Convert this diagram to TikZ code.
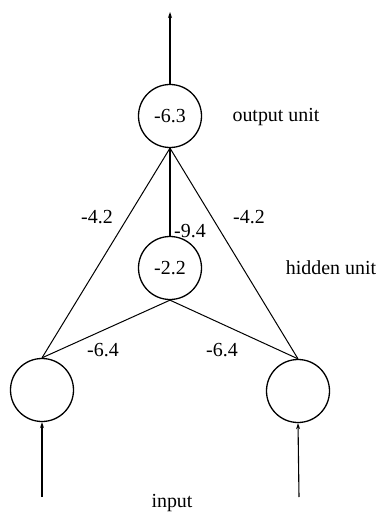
\documentclass[tikz,border=0pt]{standalone}
\usepackage{fontspec}
\setmainfont{Liberation Serif}
\usetikzlibrary{arrows.meta}
\begin{document}
\begin{tikzpicture}[x=1bp,y=-1bp,
  unit/.style={circle,draw,line width=1.3bp,minimum size=63bp,inner sep=0pt,font=\fontsize{20}{22}\selectfont},
  lab/.style={inner sep=0pt,font=\fontsize{20}{22}\selectfont},
  conn/.style={line width=1bp},
  feed/.style={line width=1.1bp,-{Stealth[length=6bp,width=4bp]}}]
\useasboundingbox (0,0) rectangle (381,515);
\node[unit] (out) at (170,116) {-6.3};
\node[unit] (hid) at (170,268) {-2.2};
\node[unit] (in1) at (42,390) {};
\node[unit] (in2) at (298,391) {};
\coordinate (top) at (170,12);
\coordinate (s1) at (42,497);
\coordinate (s2) at (299,497);
\draw[feed,line width=1.8bp] (out.north) -- (top);
\draw[feed] (s1) -- (in1.south);
\draw[feed] (s2) -- (in2.south);
\draw[conn] (out.south) -- (in1.north);
\draw[conn] (out.south) -- (in2.north);
\draw[line width=1.8bp] (out.south) -- (hid.north);
\draw[conn] (hid.south) -- (in1.north);
\draw[conn] (hid.south) -- (in2.north);
\node[lab] (w1) at (97,217) {-4.2};
\node[lab] (w2) at (249,217) {-4.2};
\node[lab] (w3) at (190,231) {-9.4};
\node[lab] (w4) at (103,350) {-6.4};
\node[lab] (w5) at (222,350) {-6.4};
\node[lab] (lo) at (276,117) {output unit};
\node[lab] (lh) at (331,268) {hidden unit};
\node[lab] (li) at (172,503) {input};
\end{tikzpicture}
\end{document}
